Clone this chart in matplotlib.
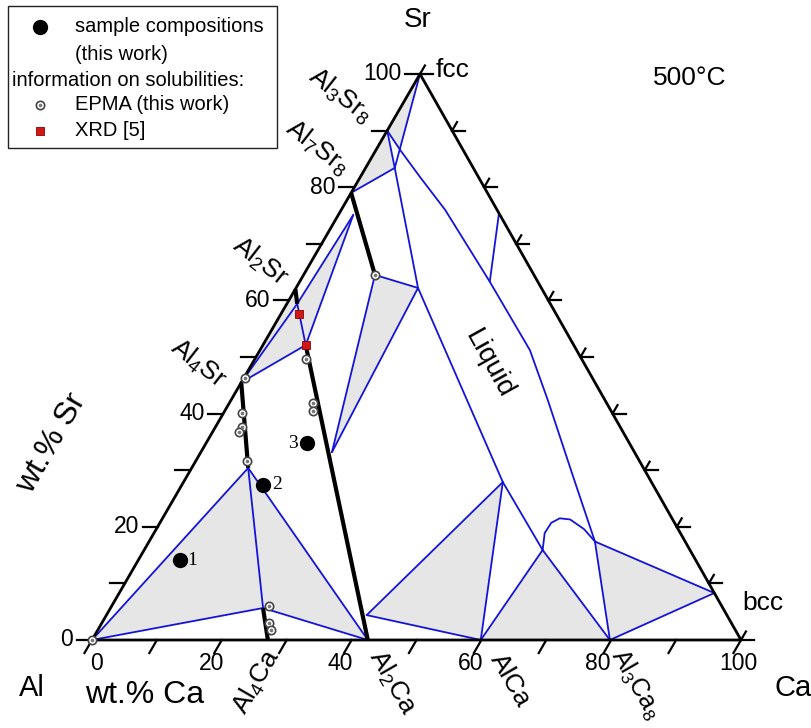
import matplotlib
matplotlib.use('Agg')
import matplotlib.pyplot as plt
from matplotlib.patches import Polygon, Rectangle

plt.rcParams['font.family'] = ['Liberation Sans', 'DejaVu Sans']
plt.rcParams['mathtext.fontset'] = 'custom'
plt.rcParams['mathtext.rm'] = 'Liberation Sans'
plt.rcParams['mathtext.it'] = 'Liberation Sans:italic'

# ---------------- data: compositions as (wt.% Ca, wt.% Sr) ----------------
AL = (0.0, 0.0)
CA = (100.0, 0.0)
SR = (0.0, 100.0)
AL4SR = (0.0, 45.5)
AL2SR = (0.0, 62.0)
AL7SR8 = (0.0, 79.0)
AL3SR8 = (0.0, 90.0)
AL4CA = (27.1, 0.0)
AL2CA = (42.5, 0.0)
ALCA = (59.9, 0.0)
AL3CA8 = (79.8, 0.0)
BCC = (91.7, 8.3)

V1 = (8.7, 30.4)      # end of Al4Sr solubility
V2 = (23.5, 5.65)     # end of Al4Ca solubility
P2 = (1.6, 59.4)      # end of Al2Sr solubility
RED2 = (6.6, 52.1)    # end of Al2Ca solubility
Q = (2.3, 75.1)
T7 = (11.0, 64.5)     # end of Al7Sr8 solubility
K = (20.2, 33.2)
G = (40.1, 4.4)
X = (4.5, 83.4)
R = (18.8, 62.2)
S = (49.2, 27.9)
D = (61.4, 15.9)
F = (68.7, 17.4)
E1 = (24.6, 75.4)
B3 = (29.3, 63.3)

liquid_right = [AL3SR8, (3.7, 86.6), (9.2, 81.8), (16.0, 76.0), (29.3, 63.3),
                (41.6, 51.2), (48.8, 42.4), (59.6, 28.8), F]
liquid_left = [AL3SR8, X, R, S, D]
dome = [D, (60.2, 18.9), (60.3, 20.7), (61.2, 21.5), (62.9, 21.3), (65.9, 19.6), F]

blue_segments = [
    (AL, V1), (AL, V2), (V1, V2), (V1, AL2CA), (V2, AL2CA),
    (AL4SR, P2), (P2, Q), (AL4SR, RED2), (P2, RED2), (RED2, Q),
    (T7, R), (T7, K), (R, K),
    (SR, X), (AL7SR8, X),
    (G, S), (G, ALCA), (S, ALCA), (ALCA, D), (D, AL3CA8),
    (F, AL3CA8), (F, BCC), (BCC, AL3CA8), (E1, B3),
]
thick_segments = [(AL4SR, V1), (V2, AL4CA), (AL2SR, P2), (RED2, AL2CA), (AL7SR8, T7)]

gray_regions = [
    [AL, V1, V2], [V1, V2, AL2CA],
    [AL4SR, AL2SR, P2, Q, RED2],
    [T7, R, K],
    [G, S, ALCA], [ALCA, D, AL3CA8], [F, BCC, AL3CA8],
    [AL3SR8, AL7SR8, X], [SR, AL3SR8, (3.7, 86.6)],
]

samples_ca = [6.5, 12.5, 15.5]
samples_sr = [14.1, 27.4, 34.8]
samples_lbl = ['1', '2', '3']
epma_ca = [0.0, 0.2, 2.8, 4.1, 4.1, 7.9, 24.3, 25.8, 26.7, 7.9, 12.9, 13.6, 11.0]
epma_sr = [0.0, 46.3, 40.1, 37.6, 36.8, 31.7, 6.0, 2.95, 1.8, 49.6, 41.8, 40.5, 64.5]
xrd_ca = [2.8, 6.6]
xrd_sr = [57.6, 52.1]

tick_values = [0, 10, 20, 30, 40, 50, 60, 70, 80, 90, 100]
tick_labels = ['0', '20', '40', '60', '80', '100']

# ---------------- geometry ----------------
KSK = 0.5054          # skew of the drawn triangle
SX, SY = 6.49, 5.66   # px per unit


def T(c):
    ca, sr = c
    return ca + KSK * sr, sr


def Pp(px, py):
    return (px - 92) / SX, (640 - py) / SY


fig = plt.figure(figsize=(8.11, 7.28), dpi=100)
ax = fig.add_axes([0, 0, 1, 1])
ax.set_xlim((0 - 92) / SX, (811 - 92) / SX)
ax.set_ylim((640 - 728) / SY, 640 / SY)
ax.axis('off')

BLUE = '#1414d8'
GRAY = '#e6e6e6'

for reg in gray_regions:
    ax.add_patch(Polygon([T(p) for p in reg], closed=True, fc=GRAY, ec='none', zorder=1))


def line(pts, **kw):
    xs, ys = zip(*[T(p) for p in pts])
    ax.plot(xs, ys, **kw)

for a, b in blue_segments:
    line([a, b], color=BLUE, lw=1.3, zorder=2, solid_capstyle='round')
line(liquid_right, color=BLUE, lw=1.3, zorder=2, solid_joinstyle='round')
line(liquid_left, color=BLUE, lw=1.3, zorder=2, solid_joinstyle='round')
line(dome, color=BLUE, lw=1.3, zorder=2, solid_joinstyle='round')

for a, b in thick_segments:
    line([a, b], color='black', lw=3.0, zorder=3, solid_capstyle='butt')

# triangle
line([AL, CA, SR, AL], color='black', lw=2.0, zorder=3)

# ticks
TL = 2.3
for v in tick_values:
    line([(0, v), (-TL, v)], color='black', lw=1.6, zorder=3)          # left, Sr
    line([(v, 0), (v, -TL)], color='black', lw=1.6, zorder=3)          # bottom, Ca
    line([(100 - v, v), (100 - v + 2.0, v)], color='black', lw=1.6, zorder=3)   # right horiz
    line([(100 - v, v), (100 - v, v + 1.5)], color='black', lw=1.6, zorder=3)   # right diag

FS = 16.5
for i, lab in enumerate(tick_labels):
    v = i * 20
    x, y = T((-TL, v))
    ax.text(x - 0.6, y, lab, ha='right', va='center', fontsize=FS, zorder=5)
bottom_off = [5, -10, -11, -11, -13, -3]
for i, lab in enumerate(tick_labels):
    v = i * 20
    px = 92 + SX * v + bottom_off[i]
    ax.text(*Pp(px, 664), lab, ha='center', va='center', fontsize=FS, zorder=5)

# markers
ax.plot(*zip(*[T(c) for c in zip(samples_ca, samples_sr)]), 'o', color='black', ms=10, zorder=6, ls='none')
epma_xy = list(zip(*[T(c) for c in zip(epma_ca, epma_sr)]))
ax.plot(*epma_xy, 'o', mfc='white', mec='#444444', mew=1.2, ms=6, zorder=6, ls='none')
ax.plot(*epma_xy, 'o', color='#777777', ms=1.6, zorder=6, ls='none')
ax.plot(*zip(*[T(c) for c in zip(xrd_ca, xrd_sr)]), 's', mfc='#d01818', mec='#8a0000',
        mew=0.6, ms=6, zorder=7, ls='none')
num_off = [(12, 0), (14, 0), (-14, 0)]
for c, s, lab, (dx, dy) in zip(samples_ca, samples_sr, samples_lbl, num_off):
    x, y = T((c, s))
    ax.text(x + dx / SX, y + dy / SY, lab, family='Liberation Serif', fontsize=14,
            ha='center', va='center', zorder=6)

# labels
ax.text(*Pp(418, 20), 'Sr', fontsize=20, ha='center', va='center')
ax.text(*Pp(32, 688), 'Al', fontsize=21, ha='center', va='center')
ax.text(*Pp(793, 688), 'Ca', fontsize=21, ha='center', va='center')
ax.text(*Pp(52, 443), 'wt.% Sr', fontsize=23, ha='center', va='center', rotation=60)
ax.text(*Pp(145, 695), 'wt.% Ca', fontsize=23, ha='center', va='center')
ax.text(*Pp(690, 78), '500°C', fontsize=19, ha='center', va='center')
ax.text(*Pp(436, 70), 'fcc', fontsize=19, ha='left', va='center')
ax.text(*Pp(742, 603), 'bcc', fontsize=19, ha='left', va='center')
ax.text(*Pp(489, 364), 'Liquid', fontsize=20, ha='center', va='center', rotation=-61)

PHS = 19
ax.text(*Pp(340, 96), r'Al$_{\mathit{3}}$Sr$_{\mathit{8}}$', fontsize=PHS, rotation=-38, ha='center', va='center')
ax.text(*Pp(317, 148), r'Al$_{\mathit{7}}$Sr$_{\mathit{8}}$', fontsize=PHS, rotation=-38, ha='center', va='center')
ax.text(*Pp(260, 262), r'Al$_{\mathit{2}}$Sr', fontsize=PHS, rotation=-38, ha='center', va='center')
ax.text(*Pp(198, 364), r'Al$_{\mathit{4}}$Sr', fontsize=PHS, rotation=-38, ha='center', va='center')
ax.text(*Pp(257, 682), r'Al$_{\mathit{4}}$Ca', fontsize=PHS, rotation=60, ha='center', va='center')
ax.text(*Pp(392, 683), r'Al$_{\mathit{2}}$Ca', fontsize=PHS, rotation=-60, ha='center', va='center')
ax.text(*Pp(510, 680), 'AlCa', fontsize=PHS, rotation=-60, ha='center', va='center')
ax.text(*Pp(636, 684), r'Al$_{\mathit{3}}$Ca$_{\mathit{8}}$', fontsize=18, rotation=-60, ha='center', va='center')

# legend box
x0, y0 = Pp(8, 148)
x1, y1 = Pp(277, 6)
ax.add_patch(Rectangle((x0, y0), x1 - x0, y1 - y0, fc='white', ec='#222222', lw=1.0, zorder=8))
LF = 14.5
ax.plot(*Pp(40, 27), 'o', color='black', ms=10, zorder=9)
ax.text(*Pp(75, 26), 'sample compositions', fontsize=LF, va='center', zorder=9)
ax.text(*Pp(75, 55), '(this work)', fontsize=LF, va='center', zorder=9)
ax.text(*Pp(12, 80), 'information on solubilities:', fontsize=LF, va='center', zorder=9)
ax.plot(*Pp(40, 105), 'o', mfc='white', mec='#444444', mew=1.2, ms=6, zorder=9)
ax.plot(*Pp(40, 105), 'o', color='#777777', ms=1.6, zorder=9)
ax.text(*Pp(75, 104), 'EPMA (this work)', fontsize=LF, va='center', zorder=9)
ax.plot(*Pp(40, 131), 's', mfc='#d01818', mec='#8a0000', mew=0.6, ms=6, zorder=9)
ax.text(*Pp(75, 130), 'XRD [5]', fontsize=LF, va='center', zorder=9)

fig.savefig('out.png', dpi=100)
